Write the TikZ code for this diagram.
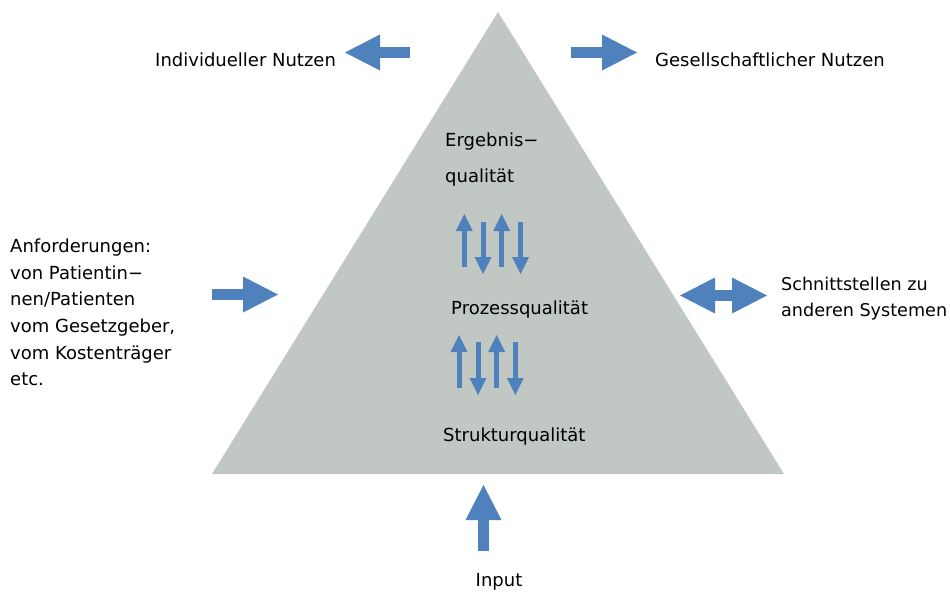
\documentclass[tikz,border=0pt]{standalone}
\usepackage{fontspec}
\setmainfont{DejaVu Sans}
\usetikzlibrary{arrows.meta}
\definecolor{trigrey}{HTML}{C1C7C3}
\definecolor{arrblue}{HTML}{4F81BD}
\tikzset{
  lbl/.style={font=\fontsize{18}{26.7}\selectfont, inner sep=0pt, anchor=base west, align=left},
  bigarrow/.style={draw=arrblue, line width=11.5pt, -{Triangle[width=36pt,length=35pt,line width=0pt]}},
  bigdouble/.style={draw=arrblue, line width=11pt, {Triangle[width=36pt,length=35pt,line width=0pt]}-{Triangle[width=36pt,length=35pt,line width=0pt]}},
  smallarrow/.style={draw=arrblue, line width=5pt, -{Triangle[width=17pt,length=17pt,line width=0pt]}}
}
\begin{document}
\begin{tikzpicture}[x=1pt,y=-1pt]
\useasboundingbox (0,0) rectangle (950,592);
% triangle
\fill[trigrey] (498,12) -- (784,474) -- (212,474) -- cycle;

% texts (multi-line nodes: base anchor = last line's baseline)
\node[lbl] (indiv) at (155,66.7) {Individueller Nutzen};
\node[lbl] (gesell) at (655,66.7) {Gesellschaftlicher Nutzen};
\node[lbl] (ergeb) at (445,182.3) {Ergebnis−\\[8.9pt]qualität};
\node[lbl] (prozess) at (451,314) {Prozessqualität};
\node[lbl] (struktur) at (443,441.7) {Strukturqualität};
\node[lbl, anchor=base] (input) at (499,586.7) {Input};
\node[lbl] (anford) at (10,385.8) {Anforderungen:\\von Patientin−\\nen/Patienten\\vom Gesetzgeber,\\vom Kostenträger\\etc.};
\node[lbl, font=\fontsize{17.6}{26.7}\selectfont] (schnitt) at (781,316.7) {Schnittstellen zu\\anderen Systemen};

% big arrow end points
\coordinate (tlA) at (410,52.5); \coordinate (tlB) at (345,52.5);
\coordinate (trA) at (571,52.5); \coordinate (trB) at (637,52.5);
\coordinate (mlA) at (212,294.5); \coordinate (mlB) at (278,294.5);
\coordinate (drA) at (680,295.5); \coordinate (drB) at (767,295.5);
\coordinate (inA) at (483.5,551); \coordinate (inB) at (483.5,485);
\draw[bigarrow] (tlA) -- (tlB);
\draw[bigarrow] (trA) -- (trB);
\draw[bigarrow] (mlA) -- (mlB);
\draw[bigdouble] (drA) -- (drB);
\draw[bigarrow] (inA) -- (inB);

% small arrows upper group
\coordinate (u1a) at (464.3,267); \coordinate (u1b) at (464.3,214);
\coordinate (u2a) at (483,222);   \coordinate (u2b) at (483,274);
\coordinate (u3a) at (501.7,267); \coordinate (u3b) at (501.7,214);
\coordinate (u4a) at (520.5,222); \coordinate (u4b) at (520.5,274);
\draw[smallarrow] (u1a) -- (u1b);
\draw[smallarrow] (u2a) -- (u2b);
\draw[smallarrow] (u3a) -- (u3b);
\draw[smallarrow] (u4a) -- (u4b);
% small arrows lower group
\coordinate (l1a) at (459,388.3); \coordinate (l1b) at (459,335);
\coordinate (l2a) at (478,341.7); \coordinate (l2b) at (478,395);
\coordinate (l3a) at (496.7,388.3); \coordinate (l3b) at (496.7,335);
\coordinate (l4a) at (515.3,341.7); \coordinate (l4b) at (515.3,395);
\draw[smallarrow] (l1a) -- (l1b);
\draw[smallarrow] (l2a) -- (l2b);
\draw[smallarrow] (l3a) -- (l3b);
\draw[smallarrow] (l4a) -- (l4b);
\end{tikzpicture}
\end{document}
